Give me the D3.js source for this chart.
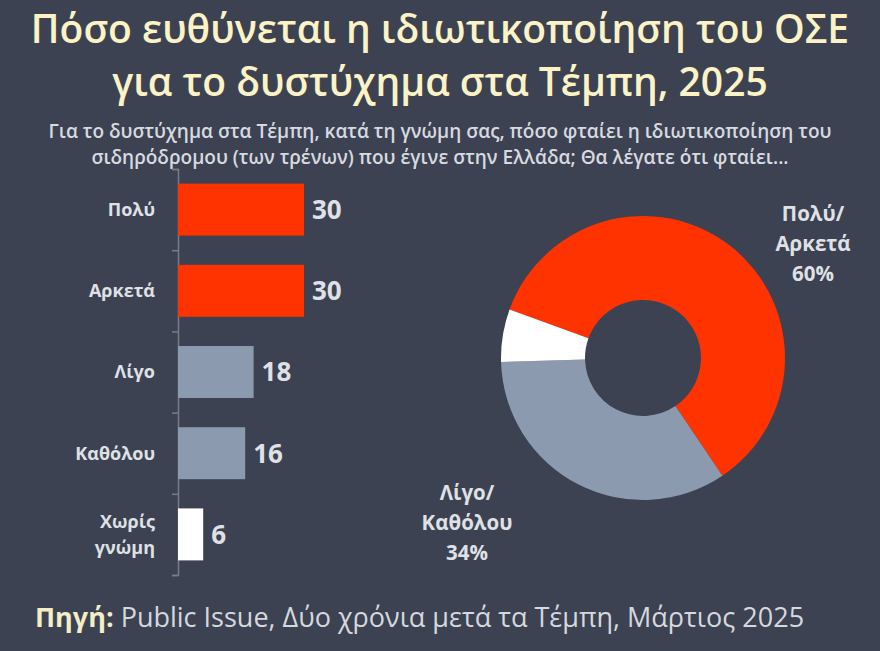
<!DOCTYPE html>
<html>
<head>
<meta charset="utf-8">
<script src="https://cdn.jsdelivr.net/npm/d3@7"></script>
<style>
  html, body { margin: 0; padding: 0; background: #3c4251; }
  #chart { width: 880px; height: 651px; }
</style>
</head>
<body>
<div id="chart"></div>
<script>
// Data
var categories = ['Πολύ', 'Αρκετά', 'Λίγο', 'Καθόλου', 'Χωρίς γνώμη'];
var values = [30, 30, 18, 16, 6];
var barColors = ['#ff3300', '#ff3300', '#8c9ab0', '#8c9ab0', '#ffffff'];

var donutLabels = [['Πολύ/', 'Αρκετά', '60%'], ['Λίγο/', 'Καθόλου', '34%'], null];
var donutValues = [60, 34, 6];
var donutColors = ['#ff3300', '#8c9ab0', '#ffffff'];

var titleLines = ['Πόσο ευθύνεται η ιδιωτικοποίηση του ΟΣΕ', 'για το δυστύχημα στα Τέμπη, 2025'];
var subtitleLines = [
    'Για το δυστύχημα στα Τέμπη, κατά τη γνώμη σας, πόσο φταίει η ιδιωτικοποίηση του',
    'σιδηρόδρομου (των τρένων) που έγινε στην Ελλάδα; Θα λέγατε ότι φταίει...'
];

var chart_width = 880;
var chart_height = 651;
var labelColor = '#dfe1e6';

var svg = d3.select('#chart')
    .append('svg')
    .attr('width', chart_width)
    .attr('height', chart_height);

svg.append('rect')
    .attr('width', chart_width)
    .attr('height', chart_height)
    .attr('fill', '#3c4251');

// Titulo
svg.selectAll('.title')
    .data(titleLines)
    .enter()
    .append('text')
    .attr('class', 'title')
    .attr('x', 440)
    .attr('y', function (d, i) { return 43 + i * 53; })
    .attr('text-anchor', 'middle')
    .attr('font-family', 'Open Sans')
    .attr('font-weight', 600)
    .attr('font-size', 39)
    .attr('fill', '#fbf3c6')
    .text(function (d) { return d; });

svg.selectAll('.subtitle')
    .data(subtitleLines)
    .enter()
    .append('text')
    .attr('class', 'subtitle')
    .attr('x', 440)
    .attr('y', function (d, i) { return 138 + i * 26; })
    .attr('text-anchor', 'middle')
    .attr('font-family', 'Open Sans')
    .attr('font-weight', 600)
    .attr('font-size', 19)
    .attr('fill', '#d7dae0')
    .text(function (d) { return d; });

// Escalas das barras
var x_scale = d3.scaleLinear()
    .domain([0, 30])
    .range([178, 304]);

var y_scale = d3.scaleBand()
    .domain(categories)
    .range([169, 575])
    .paddingInner(0.36)
    .paddingOuter(0.18);

// Eixo
var edge_scale = d3.scaleLinear()
    .domain([0, categories.length])
    .range([169, 575]);

var axis = svg.append('g')
    .attr('transform', 'translate(178,0)')
    .call(d3.axisLeft(edge_scale).tickValues(d3.range(categories.length + 1)).tickSize(6).tickFormat(''));
axis.selectAll('path, line').attr('stroke', '#777d89').attr('stroke-width', 1.5);

// Barras
svg.selectAll('.bar')
    .data(values)
    .enter()
    .append('rect')
    .attr('class', 'bar')
    .attr('x', x_scale(0))
    .attr('y', function (d, i) { return y_scale(categories[i]); })
    .attr('width', function (d) { return x_scale(d) - x_scale(0); })
    .attr('height', y_scale.bandwidth())
    .attr('fill', function (d, i) { return barColors[i]; });

// Rotulos das barras
svg.selectAll('.value')
    .data(values)
    .enter()
    .append('text')
    .attr('class', 'value')
    .attr('x', function (d) { return x_scale(d) + 8; })
    .attr('y', function (d, i) { return y_scale(categories[i]) + y_scale.bandwidth() / 2; })
    .attr('dy', '0.36em')
    .attr('font-family', 'Open Sans')
    .attr('font-weight', 700)
    .attr('font-size', 26)
    .attr('fill', labelColor)
    .text(function (d) { return d; });

var catLabels = svg.selectAll('.cat')
    .data(categories)
    .enter()
    .append('text')
    .attr('class', 'cat')
    .attr('text-anchor', 'end')
    .attr('font-family', 'Open Sans')
    .attr('font-weight', 700)
    .attr('font-size', 18)
    .attr('fill', labelColor)
    .attr('transform', function (d) {
        return 'translate(155,' + (y_scale(d) + y_scale.bandwidth() / 2) + ')';
    });

catLabels.selectAll('tspan')
    .data(function (d) { return d === 'Χωρίς γνώμη' ? ['Χωρίς', 'γνώμη'] : [d]; })
    .enter()
    .append('tspan')
    .attr('x', 0)
    .attr('y', function (d, i, nodes) {
        return nodes.length > 1 ? (i === 0 ? -13 : 13) : 0;
    })
    .attr('dy', '0.36em')
    .text(function (d) { return d; });

// Donut
var pie = d3.pie()
    .sort(null)
    .startAngle(-70 * Math.PI / 180)
    .endAngle(290 * Math.PI / 180);

var arc = d3.arc()
    .innerRadius(58)
    .outerRadius(142);

var donut = svg.append('g')
    .attr('transform', 'translate(643,358)');

donut.selectAll('path')
    .data(pie(donutValues))
    .enter()
    .append('path')
    .attr('d', arc)
    .attr('fill', function (d, i) { return donutColors[i]; });

var donutLabelPos = [[813, 221], [467, 500]];

svg.selectAll('.dlabel')
    .data(donutLabels.filter(function (d) { return d; }))
    .enter()
    .append('text')
    .attr('class', 'dlabel')
    .attr('text-anchor', 'middle')
    .attr('font-family', 'Open Sans')
    .attr('font-weight', 700)
    .attr('font-size', 20.5)
    .attr('fill', labelColor)
    .attr('transform', function (d, i) {
        return 'translate(' + donutLabelPos[i][0] + ',' + donutLabelPos[i][1] + ')';
    })
    .selectAll('tspan')
    .data(function (d) { return d; })
    .enter()
    .append('tspan')
    .attr('x', 0)
    .attr('y', function (d, i) { return i * 30; })
    .text(function (d) { return d; });

// Fonte
var source = svg.append('text')
    .attr('x', 35)
    .attr('y', 627)
    .attr('font-family', 'Open Sans')
    .attr('font-size', 27)
    .attr('fill', '#d5d8de');
source.append('tspan').attr('font-weight', 700).attr('fill', '#f4eec6').text('Πηγή:');
source.append('tspan').text(' Public Issue, Δύο χρόνια μετά τα Τέμπη, Μάρτιος 2025');
</script>
</body>
</html>
